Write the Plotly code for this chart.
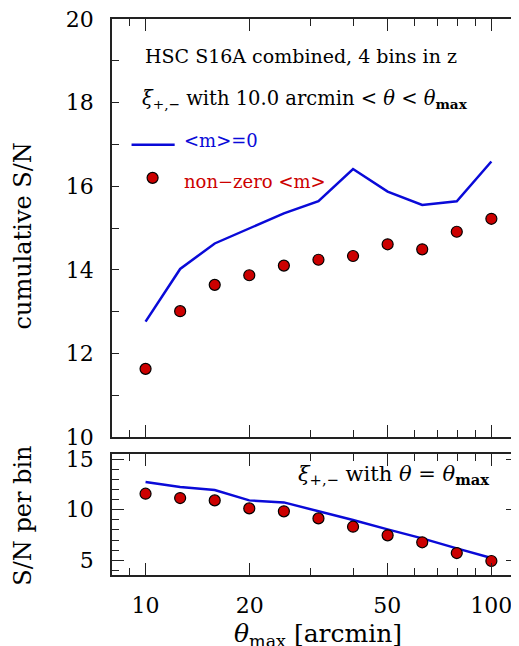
import plotly.graph_objects as go

theta_max = [10.0, 12.59, 15.85, 19.95, 25.12, 31.62, 39.81, 50.12, 63.10, 79.43, 100.0]
cum_sn_m0 = [12.76, 14.02, 14.63, 14.99, 15.35, 15.64, 16.41, 15.87, 15.55, 15.64, 16.59]
cum_sn_m = [11.63, 13.01, 13.64, 13.87, 14.10, 14.24, 14.33, 14.61, 14.49, 14.91, 15.22]
bin_sn_m0 = [12.73, 12.24, 11.94, 10.92, 10.72, 9.87, 8.98, 8.06, 7.17, 6.18, 5.23]
bin_sn_m = [11.58, 11.15, 10.92, 10.13, 9.84, 9.14, 8.32, 7.47, 6.78, 5.72, 4.93]

x_major = [10, 20, 50, 100]
x_major_text = ["10", "20", "50", "100"]
x_minor = [9, 30, 40, 60, 70, 80, 90]

# legend key positions (top panel data units)
legend_line_x = [9.11, 12.14]
legend_line_y = [16.99, 16.99]
legend_dot_x = [10.48]
legend_dot_y = [16.2]

BLUE = "#0a0ad8"
RED = "#cc0000"
FONT = "DejaVu Serif"
AXC = "#222222"

fig = go.Figure()
fig.add_trace(go.Scatter(x=theta_max, y=cum_sn_m0, mode="lines",
                         line=dict(color=BLUE, width=2.5), xaxis="x", yaxis="y", showlegend=False))
fig.add_trace(go.Scatter(x=theta_max, y=cum_sn_m, mode="markers",
                         marker=dict(color=RED, size=11, line=dict(color="black", width=1.2)),
                         xaxis="x", yaxis="y", showlegend=False))
fig.add_trace(go.Scatter(x=theta_max, y=bin_sn_m0, mode="lines",
                         line=dict(color=BLUE, width=2.5), xaxis="x2", yaxis="y2", showlegend=False))
fig.add_trace(go.Scatter(x=theta_max, y=bin_sn_m, mode="markers",
                         marker=dict(color=RED, size=11, line=dict(color="black", width=1.2)),
                         xaxis="x2", yaxis="y2", showlegend=False))
# legend keys
fig.add_trace(go.Scatter(x=legend_line_x, y=legend_line_y, mode="lines",
                         line=dict(color=BLUE, width=2.5), xaxis="x", yaxis="y",
                         showlegend=False, hoverinfo="skip"))
fig.add_trace(go.Scatter(x=legend_dot_x, y=legend_dot_y, mode="markers",
                         marker=dict(color=RED, size=11, line=dict(color="black", width=1.2)),
                         xaxis="x", yaxis="y", showlegend=False, hoverinfo="skip"))

axcommon = dict(showline=True, linecolor=AXC, linewidth=1.5, mirror="allticks",
                ticks="inside", tickcolor=AXC, showgrid=False, zeroline=False, automargin=False,
                ticklabeloverflow="allow",
                tickfont=dict(family=FONT, size=22, color="black"))
xcommon = dict(axcommon, type="log", range=[0.903, 2.077], tickmode="array",
               tickvals=x_major, ticktext=x_major_text, ticklen=12, tickwidth=1.3,
               minor=dict(tickmode="array", tickvals=x_minor, ticks="inside",
                          ticklen=7, tickcolor=AXC, tickwidth=1.3, showgrid=False))

# page body has an 8px default margin: figure is sized so the plot lands where the reference has it
fig.update_layout(
    width=511, height=638,
    margin=dict(l=104, r=1, t=11, b=71),
    plot_bgcolor="white", paper_bgcolor="white",
    xaxis=dict(xcommon, anchor="y", showticklabels=False, matches="x2"),
    xaxis2=dict(xcommon, anchor="y2", ticklabelstandoff=10),
    yaxis=dict(axcommon, domain=[0.2482, 1.0], range=[10, 20], tickmode="linear",
               tick0=10, dtick=2, ticklen=7, tickwidth=1.3, ticklabelstandoff=12,
               minor=dict(dtick=1, ticks="inside", ticklen=7, tickcolor=AXC, tickwidth=1.3)),
    yaxis2=dict(axcommon, domain=[0.0, 0.2176], range=[3.55, 15.5], tickmode="linear",
                tick0=5, dtick=5, ticklen=12, tickwidth=1.3, ticklabelstandoff=12,
                minor=dict(dtick=1, tick0=5, ticks="inside", ticklen=7, tickcolor=AXC, tickwidth=1.3)),
)

title_font = dict(family=FONT, size=24, color="black")
fig.add_annotation(xref="paper", yref="paper", x=-0.22, y=0.61, xanchor="center", yanchor="middle",
                   text="cumulative S/N", textangle=-90, showarrow=False, font=title_font)
fig.add_annotation(xref="paper", yref="paper", x=-0.22, y=0.106, xanchor="center", yanchor="middle",
                   text="S/N per bin", textangle=-90, showarrow=False, font=title_font)
fig.add_annotation(xref="paper", yref="paper", x=0.507, y=-0.108, xanchor="center", yanchor="middle",
                   text="<i>θ</i><sub>max</sub> [arcmin]", showarrow=False,
                   font=dict(family=FONT, size=25, color="black"))

ann_font = dict(family=FONT, size=19, color="black")
fig.add_annotation(xref="paper", yref="paper", x=0.076, y=0.9335, xanchor="left", yanchor="middle",
                   text="HSC S16A combined, 4 bins in z", showarrow=False, font=ann_font)
fig.add_annotation(xref="paper", yref="paper", x=0.069, y=0.856, xanchor="left", yanchor="middle",
                   text="<i>ξ</i><sub>+,−</sub> with 10.0 arcmin &lt; <i>θ</i> &lt; <i>θ</i><sub><b>max</b></sub>",
                   showarrow=False, font=dict(family=FONT, size=19.5, color="black"))
fig.add_annotation(xref="paper", yref="paper", x=0.172, y=0.782, xanchor="left", yanchor="middle",
                   text="&lt;m&gt;=0", showarrow=False, font=dict(family=FONT, size=18, color=BLUE))
fig.add_annotation(xref="paper", yref="paper", x=0.172, y=0.707, xanchor="left", yanchor="middle",
                   text="non−zero &lt;m&gt;", showarrow=False, font=dict(family=FONT, size=18, color=RED))
fig.add_annotation(xref="paper", yref="paper", x=0.933, y=0.18, xanchor="right", yanchor="middle",
                   text="<i>ξ</i><sub>+,−</sub> with <i>θ</i> = <i>θ</i><sub><b>max</b></sub>",
                   showarrow=False, font=dict(family=FONT, size=21, color="black"))

fig.write_html("out.html")
